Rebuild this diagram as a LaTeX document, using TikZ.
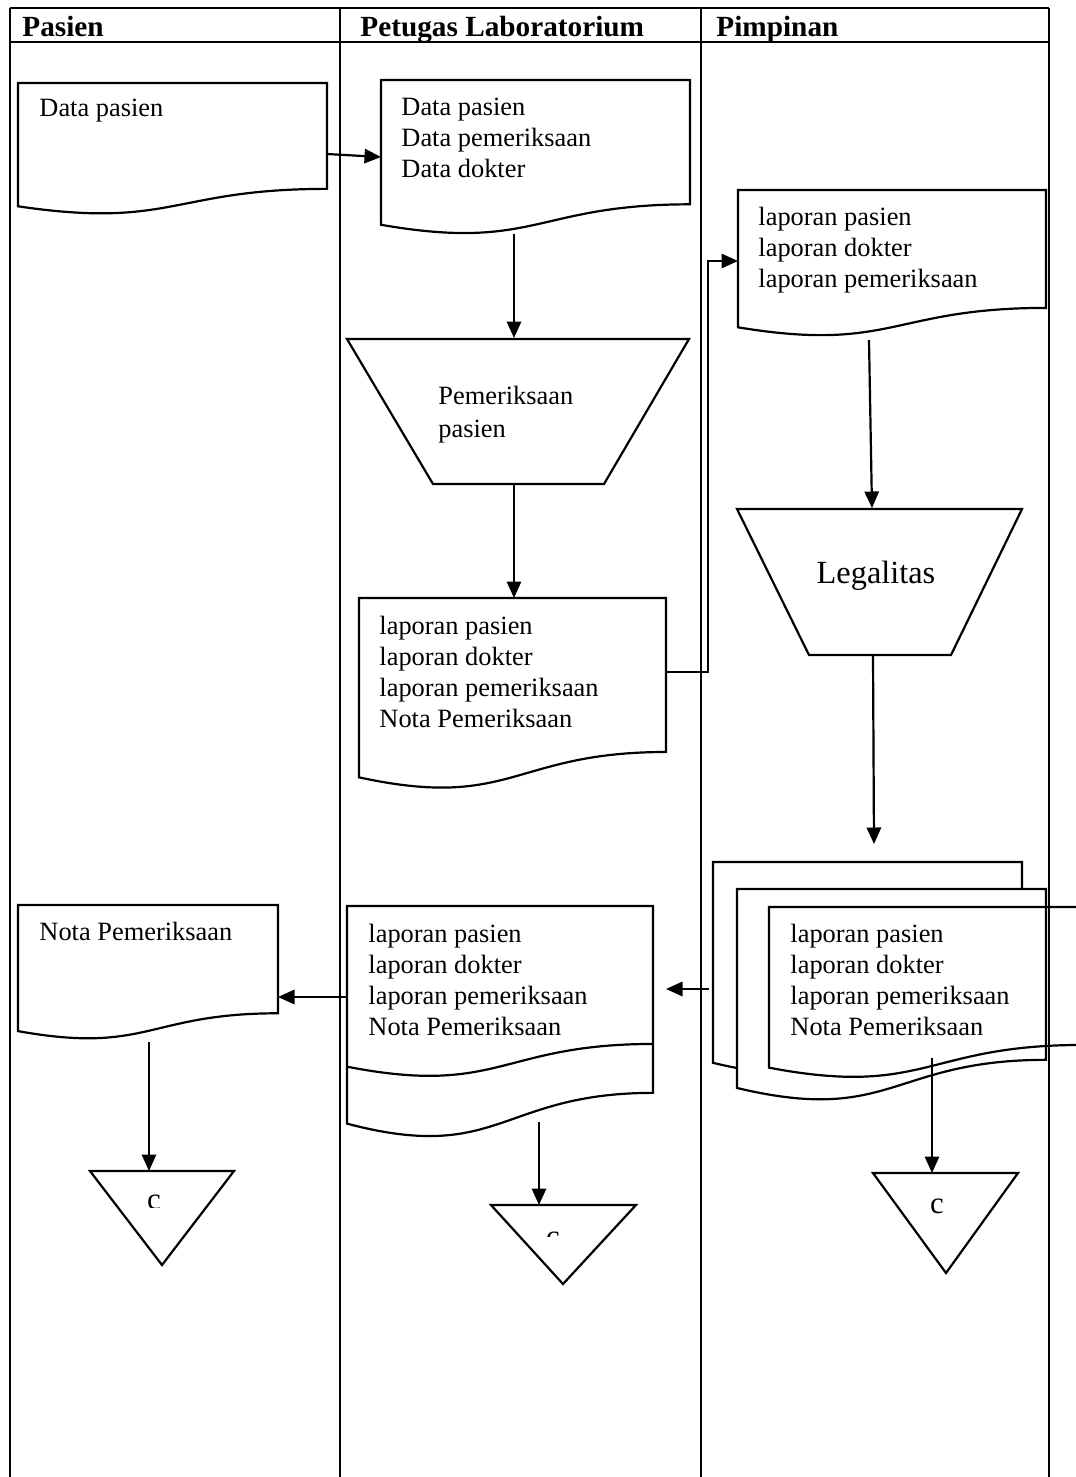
\documentclass[tikz,border=0pt]{standalone}
\usepackage{fontspec}
\setmainfont{Liberation Serif}
\usetikzlibrary{arrows.meta}
\newcommand{\docshape}[5][]{%
  \draw[shp,#1] (#2,#3) -- (#4,#3) -- (#4,{#3+0.802*#5})
    .. controls ({(#2+#4)/2},{#3+0.802*#5}) and ({(#2+#4)/2},{#3+1.1075*#5}) ..
    (#2,{#3+0.934*#5}) -- cycle;}
\begin{document}
\begin{tikzpicture}[x=0.4545pt,y=-0.4545pt,
  shp/.style={draw=black, line width=1pt, line join=miter},
  conn/.style={draw=black, line width=1pt, -{Triangle[length=7.5pt,width=6.5pt]}},
  lane/.style={draw=black, line width=1.2pt},
  txt/.style={anchor=north west, inner sep=0pt, align=left, font=\fontsize{12pt}{14pt}\selectfont},
  head/.style={anchor=base west, inner sep=0pt, font=\fontsize{13.3pt}{15pt}\selectfont\bfseries},
  cmark/.style={anchor=base, inner sep=0pt, font=\fontsize{14pt}{16pt}\selectfont}]
\useasboundingbox (0,0) rectangle (1076,1477);
\clip (0,0) rectangle (1076,1477);

% ---- documents ----
\docshape{18}{83}{327}{132}
\docshape{381}{80}{690}{155}
\docshape{359}{598}{666}{192}
\docshape{738}{190}{1046}{147}
\docshape{18}{905}{278}{135}
% double-wave document
\docshape{347}{906}{653}{233}
\draw[shp] (653,{906+0.802*172}) .. controls (500,{906+0.802*172}) and (500,{906+1.1075*172}) .. (347,{906+0.934*172});
% multi-document
\docshape[fill=white]{713}{862}{1022}{215}
\docshape[fill=white]{737}{889}{1046}{213}
\docshape{769}{907}{1082}{172}

% ---- manual operations ----
\draw[shp] (347,339) -- (689,339) -- (604,484) -- (433,484) -- cycle;
\draw[shp] (737,509) -- (1022,509) -- (951,655) -- (809,655) -- cycle;

% ---- off-page connectors ----
\draw[shp] (90,1171) -- (234,1171) -- (162,1265) -- cycle;
\draw[shp] (491,1205) -- (636,1205) -- (563,1284) -- cycle;
\draw[shp] (873,1173) -- (1018,1173) -- (946,1273) -- cycle;

% ---- texts ----
\node[head] (h1) at (22,36) {Pasien};
\node[head] (h2) at (360,36) {Petugas Laboratorium};
\node[head] (h3) at (716,36) {Pimpinan};

\node[txt] (tA) at (39,99) {Data pasien};
\node[txt] (tB) at (401,98) {Data pasien\\Data pemeriksaan\\Data dokter};
\node[txt] (tD) at (758,207) {laporan pasien\\laporan dokter\\laporan pemeriksaan};
\node[txt, font=\fontsize{12pt}{15pt}\selectfont] (tT1) at (438,386) {Pemeriksaan\\pasien};
\node[txt] (tC) at (379,616) {laporan pasien\\laporan dokter\\laporan pemeriksaan\\Nota Pemeriksaan};
\node[inner sep=0pt, font=\fontsize{14.7pt}{17pt}\selectfont] (tL) at (876,576) {Legalitas};
\node[txt] (tF) at (39,922) {Nota Pemeriksaan};
\node[txt] (tE) at (368,924) {laporan pasien\\laporan dokter\\laporan pemeriksaan\\Nota Pemeriksaan};
\node[txt] (tM) at (790,924) {laporan pasien\\laporan dokter\\laporan pemeriksaan\\Nota Pemeriksaan};

\begin{scope}
  \clip (100,1180) rectangle (220,1207);
  \node[cmark] (c1) at (154,1209) {c};
\end{scope}
\begin{scope}
  \clip (500,1215) rectangle (620,1236);
  \node[cmark] (c2) at (553,1246) {c};
\end{scope}
\node[cmark] (c3) at (937,1213) {c};

% ---- connector end points ----
\coordinate (aout) at (327,154);  \coordinate (bin) at (381,157);
\coordinate (bbot) at (514,234);  \coordinate (t1top) at (514,338);
\coordinate (t1bot) at (514,484); \coordinate (ctop) at (514,598);
\coordinate (cout) at (666,672);  \coordinate (k1) at (708,672);
\coordinate (k2) at (708,261);    \coordinate (din) at (738,261);
\coordinate (dbot) at (869,340);  \coordinate (t2top) at (872,508);
\coordinate (t2bot) at (873,655); \coordinate (mtop) at (874,844);
\coordinate (mout) at (709,989);  \coordinate (ein) at (666,989);
\coordinate (eout) at (347,997);  \coordinate (fin) at (278,997);
\coordinate (fbot) at (149,1042); \coordinate (tr1) at (149,1171);
\coordinate (ebot) at (539,1122); \coordinate (tr2) at (539,1205);
\coordinate (mbot) at (932,1058); \coordinate (tr3) at (932,1173);

\draw[conn] (aout) -- (bin);
\draw[conn] (bbot) -- (t1top);
\draw[conn] (t1bot) -- (ctop);
\draw[conn] (cout) -- (k1) -- (k2) -- (din);
\draw[conn] (dbot) -- (t2top);
\draw[conn] (t2bot) -- (mtop);
\draw[conn] (mout) -- (ein);
\draw[conn] (eout) -- (fin);
\draw[conn] (fbot) -- (tr1);
\draw[conn] (ebot) -- (tr2);
\draw[conn] (mbot) -- (tr3);

% ---- swimlane table ----
\draw[lane] (10,8) -- (1049,8);
\draw[lane] (10,42) -- (1049,42);
\foreach \x in {10,340,701,1049} \draw[lane] (\x,8) -- (\x,1477);
\end{tikzpicture}
\end{document}
